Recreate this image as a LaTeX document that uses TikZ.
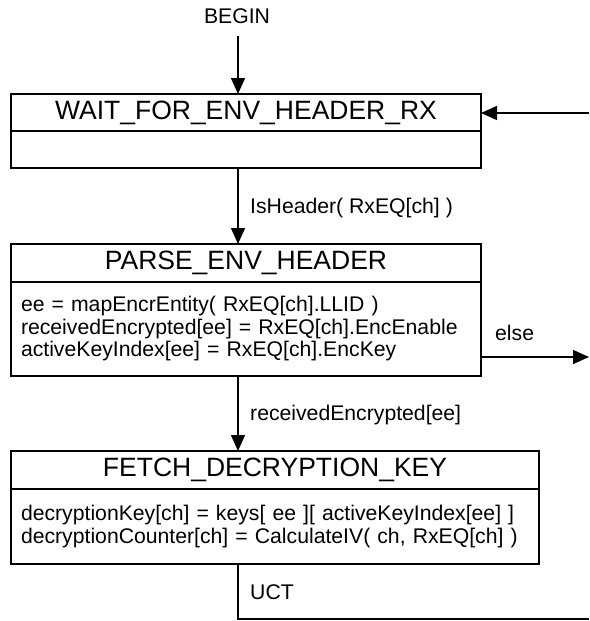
\documentclass[tikz,border=0pt]{standalone}
\usepackage{fontspec}
\setmainfont{Liberation Sans}
\usetikzlibrary{arrows.meta,positioning}

\tikzset{
	statehead/.style={draw, line width=1.8pt, inner sep=0pt, outer sep=0pt,
		font=\fontsize{26.5}{30}\selectfont},
	statebody/.style={draw, line width=1.8pt, inner xsep=10pt, inner ysep=0pt, outer sep=0pt,
		align=left, font=\fontsize{21.2}{22.5}\selectfont},
	flow/.style={line width=1.5pt, -{Triangle[length=16pt,width=14pt]}},
	plain/.style={line width=1.5pt},
	cond/.style={anchor=west, inner sep=0pt, font=\fontsize{21.2}{24}\selectfont}
}

\begin{document}
\begin{tikzpicture}[x=1pt, y=-1pt]
		%%%%% START %%%%%
		\useasboundingbox (0, 0) rectangle (589, 621);
		
		% states
		\node[statehead, minimum width=470pt, minimum height=37pt] (wait) at (246, 112.5) {WAIT\_FOR\_ENV\_HEADER\_RX};
		\node[statebody, minimum height=37pt, text width=450pt] (waitbody) at (246, 149.5) {};
		
		\node[statehead, minimum width=470pt, minimum height=38pt] (parse) at (246, 263) {PARSE\_ENV\_HEADER};
		\node[statebody, minimum height=94pt, text width=450pt] (parsebody) at (246, 329) {ee = mapEncrEntity( RxEQ[ch].LLID )\\receivedEncrypted[ee] = RxEQ[ch].EncEnable\\activeKeyIndex[ee] = RxEQ[ch].EncKey};
		
		\node[statehead, minimum width=528pt, minimum height=38pt] (fetch) at (275, 470) {FETCH\_DECRYPTION\_KEY};
		\node[statebody, minimum height=75pt, text width=508pt] (fetchbody) at (275, 526.5) {decryptionKey[ch] = keys[ ee ][ activeKeyIndex[ee] ]\\decryptionCounter[ch] = CalculateIV( ch, RxEQ[ch] )};
		
		% transitions
		\node[cond, anchor=center] (begin) at (237, 16) {BEGIN};
		\coordinate (start) at (238, 36);
		\draw[flow] (start) -- (start |- wait.north);
		
		\coordinate (loopin) at (589, 113);
		\draw[flow] (loopin) -- (loopin -| wait.east);
		
		\draw[flow] (start |- waitbody.south) -- (start |- parse.north);
		\node[cond] (isheader) at (250, 208) {IsHeader( RxEQ[ch] )};
		
		\coordinate (elseout) at (589, 357);
		\draw[flow] (elseout -| parsebody.east) -- (elseout);
		\node[cond] (else) at (495, 333) {else};
		
		\draw[flow] (start |- parsebody.south) -- (start |- fetch.north);
		\node[cond] (encrypted) at (250, 415) {receivedEncrypted[ee]};
		
		\coordinate (loopout) at (589, 619);
		\draw[plain] (start |- fetchbody.south) -- (start |- loopout) -- (loopout);
		\node[cond] (uct) at (250, 592) {UCT};
		
		%%%%% END %%%%%
	\end{tikzpicture}
\end{document}
